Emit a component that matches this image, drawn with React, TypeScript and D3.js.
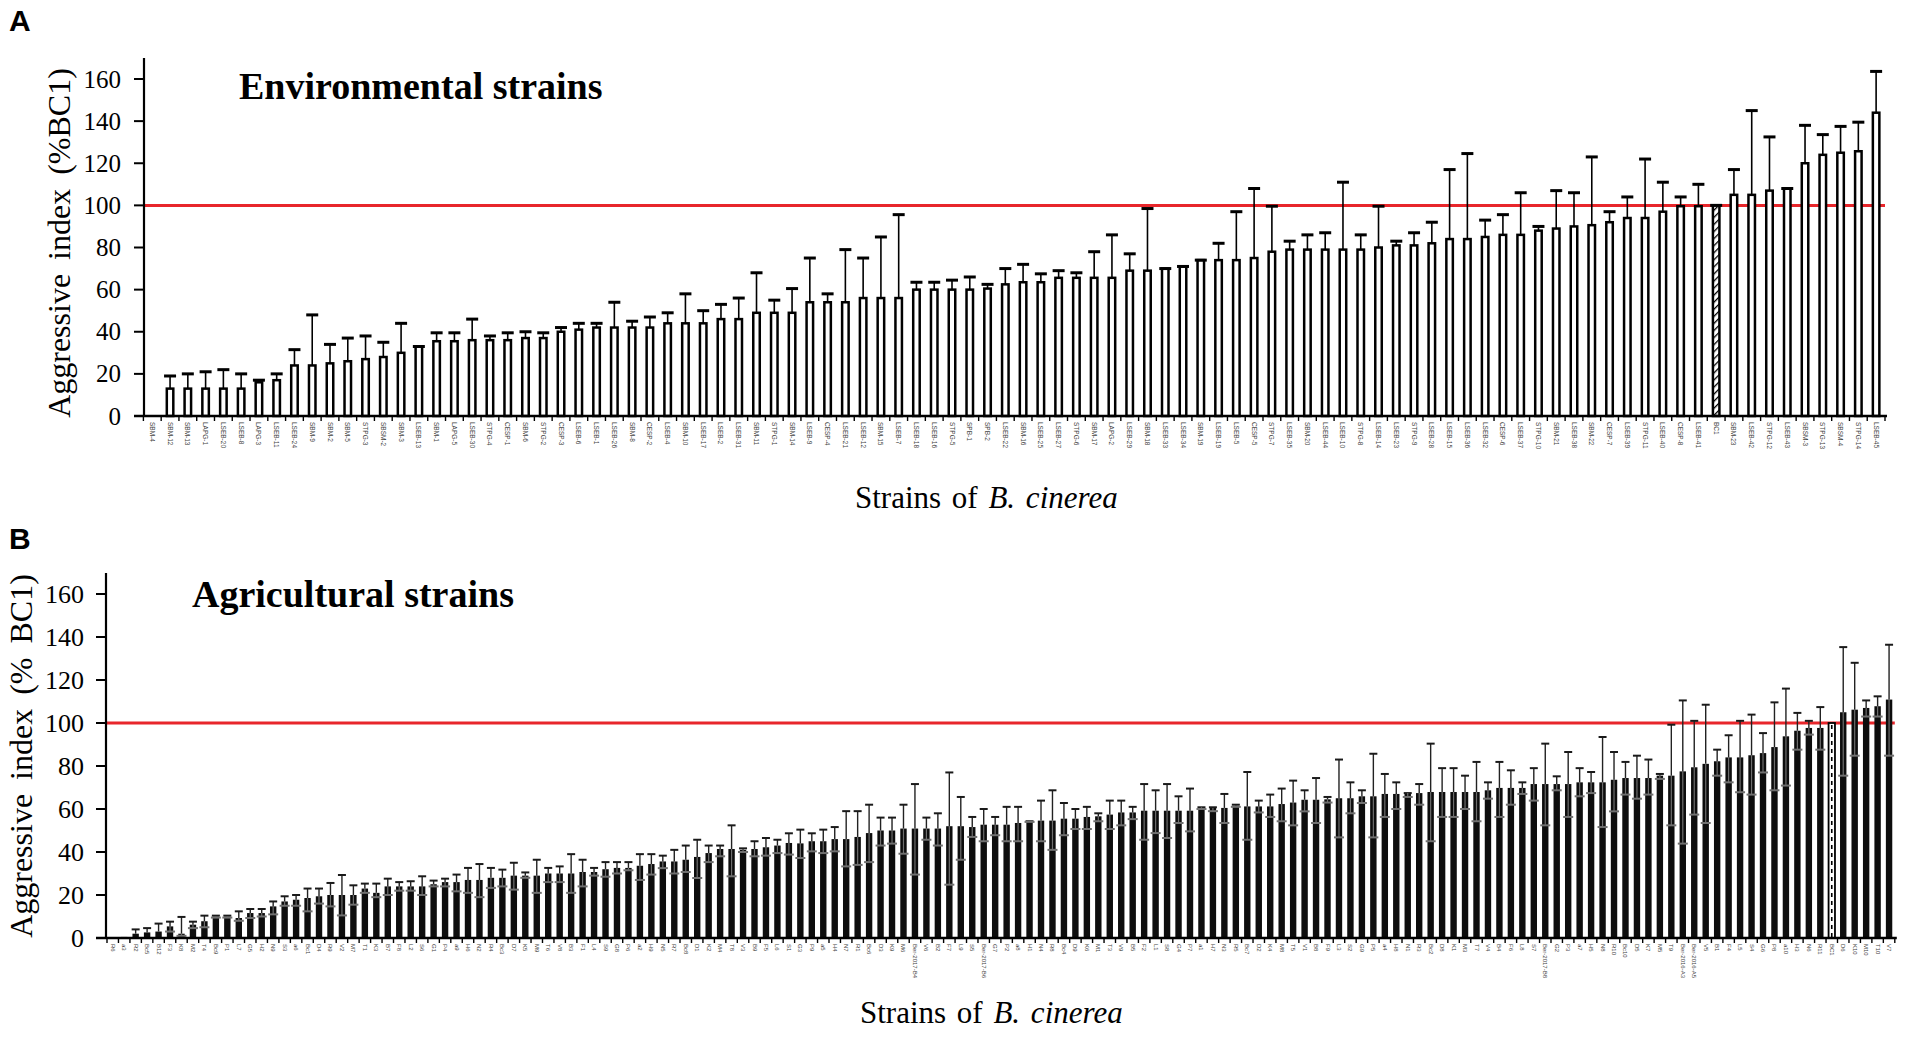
import React from "react";
import * as d3 from "d3";

const W = 1905;
const H = 1037;

const yTicks = [0, 20, 40, 60, 80, 100, 120, 140, 160];
const referenceValue = 100;

// ---------- Panel A : environmental strains ----------
const envStrains = (
  "SBM-4 SBM-12 SBM-13 LAPG-1 LSEB-20 LSEB-8 LAPG-3 LSEB-11 LSEB-24 SBM-9 " +
  "SBM-2 SBM-5 STPG-3 SBSM-2 SBM-3 LSEB-13 SBM-1 LAPG-5 LSEB-30 STPG-4 " +
  "CESP-1 SBM-6 STPG-2 CESP-3 LSEB-6 LSEB-1 LSEB-26 SBM-8 CESP-2 LSEB-4 " +
  "SBM-10 LSEB-17 LSEB-2 LSEB-31 SBM-11 STPG-1 SBM-14 LSEB-9 CESP-4 LSEB-21 " +
  "LSEB-12 SBM-15 LSEB-7 LSEB-18 LSEB-16 STPG-5 SPB-1 SPB-2 LSEB-22 SBM-16 " +
  "LSEB-25 LSEB-27 STPG-6 SBM-17 LAPG-2 LSEB-29 SBM-18 LSEB-33 LSEB-34 SBM-19 " +
  "LSEB-19 LSEB-5 CESP-5 STPG-7 LSEB-35 SBM-20 LSEB-44 LSEB-10 STPG-8 LSEB-14 " +
  "LSEB-23 STPG-9 LSEB-28 LSEB-15 LSEB-36 LSEB-32 CESP-6 LSEB-37 STPG-10 SBM-21 " +
  "LSEB-38 SBM-22 CESP-7 LSEB-39 STPG-11 LSEB-40 CESP-8 LSEB-41 BC1 SBM-23 " +
  "LSEB-42 STPG-12 LSEB-43 SBSM-3 STPG-13 SBSM-4 STPG-14 LSEB-45"
).split(" ");

const envMeans = [
  0,
  13, 13, 13, 13, 13, 16, 17, 24, 24, 25,
  26, 27, 28, 30, 33, 35.5, 35.5, 36, 36, 36,
  37, 37, 40, 41, 42, 42, 42, 42, 44, 44,
  44, 46, 46, 49, 49, 49, 54, 54, 54, 56,
  56, 56, 60, 60, 60, 60, 60.5, 62.5, 63.5, 63.5,
  65.6, 65.6, 65.6, 65.6, 69, 69, 70, 71, 74, 74,
  74, 75, 78, 79, 79, 79, 79, 79, 80, 81,
  81, 82, 84, 84, 85, 86, 86, 88, 89, 90,
  90.6, 92, 94, 94, 97, 99.6, 99.6, 100, 105, 105,
  107, 108, 120, 124, 125, 125.7, 144,
];

const envUpper = [
  0,
  19, 20, 21, 22, 20, 17, 20, 31.5, 48, 34,
  37, 38, 35, 44, 33, 39.5, 39.5, 46, 38, 39.5,
  40, 39.5, 42, 44, 44, 54, 45, 47, 49, 58,
  50, 53, 56, 68, 55, 60.5, 75, 58, 79, 75,
  85, 95.6, 63.5, 63.5, 64.5, 66, 62.5, 70, 72, 67.5,
  69, 68, 78, 86, 77, 98.5, 70, 71, 74, 82,
  97, 108, 99.6, 83, 86, 87, 111, 86, 99.6, 83,
  87, 92, 117, 124.6, 93, 95.6, 106, 90, 107, 106,
  123, 97, 104, 122, 111, 104, 110, 100, 117, 145,
  132.5, 108, 138, 133.6, 137.5, 139.5, 163.6,
];

// ---------- Panel B : agricultural strains ----------
const agriStrains = (
  "R6 a3 R2 Bc5 B12 F3 K8 M2 T4 Bc9 P1 L7 " +
  "G5 H2 N9 S3 a6 Bc1 D4 R9 V2 M7 T1 K3 " +
  "B7 F8 L2 S6 G1 P4 a9 H6 N2 R4 Bc3 D7 " +
  "K5 M9 T6 V8 B3 F1 L4 S9 G8 P6 a2 H9 " +
  "N5 R7 Bc8 D1 K2 M4 T8 V3 B9 F5 L6 S1 " +
  "G3 P9 a5 H4 N7 R1 Bc6 D3 K9 M6 Ber-2017-B4 V6 " +
  "B2 F7 L9 S5 Ber-2017-B6 G7 P2 a8 H1 N4 R8 Bc4 " +
  "D9 K6 M1 T3 V9 B5 F2 L1 S8 G4 P7 a1 " +
  "H7 N3 R5 Bc7 D2 K4 M8 T5 V1 B8 F9 L3 " +
  "S2 G9 P5 a4 H8 N1 R3 Bc2 D8 K1 M3 T7 " +
  "V4 B4 F6 L8 S7 Ber-2017-B8 G2 P3 a7 H5 N8 R10 " +
  "Bc10 D5 K7 M5 T9 Ber-2016-A3 Ber-2016-A5 V5 B1 F4 L5 S4 " +
  "G6 P8 a10 H3 N6 R11 BC1 D6 K10 M10 T10 V7"
).split(" ");

const agriMeans = [
  0, 0.5, 2, 2.6, 3, 5.4, 2, 6.2, 7.8, 10,
  10, 9.3, 11.6, 11.6, 14.7, 17, 17.8, 18.6, 19.4, 20,
  20, 20, 23, 21, 24, 24, 24, 24, 25, 26,
  26, 27, 27, 28, 28, 29, 29, 29, 30, 30,
  30, 30.7, 30.7, 32, 32.6, 32.6, 33.6, 34.4, 35.6, 35.6,
  36.4, 37.7, 39.5, 41.4, 41.4, 41, 41.4, 42.2, 43, 44.2,
  44, 45, 45, 46, 46, 47, 48.8, 50, 50, 50.9,
  50.9, 50.9, 50.9, 52, 52, 51.6, 52.7, 52.7, 52.7, 53.5,
  54.3, 54.6, 54.6, 55.5, 55.5, 56.3, 56.6, 57.4, 58.4, 58.4,
  59.2, 59.2, 59.2, 59.2, 59.2, 60.8, 60.5, 60.5, 61.5, 61.2,
  61.2, 61.2, 62.3, 63, 64.3, 64.3, 64.5, 65, 65, 65.9,
  65.9, 67, 67, 67.4, 67.4, 67.9, 67.9, 67.9, 67.9, 67.9,
  68.7, 69.8, 69.8, 69.8, 71.6, 71.6, 71.6, 71.6, 72.4, 72.4,
  72.4, 73.6, 74.4, 74.4, 74.4, 75.5, 75.5, 77.5, 79.4, 81,
  82.2, 84, 84, 85, 86, 88.8, 93.8, 96.4, 97.7, 97.7,
  100, 105, 106.2, 107, 107.8, 110.9,
];

const agriUpper = [
  0, 0.5, 4, 4.6, 6.7, 7.6, 9.8, 7.6, 10.4, 10.4,
  10.4, 12.4, 13.5, 13.5, 17, 19.4, 20, 23, 23, 25.6,
  29.3, 24.5, 25.3, 25.3, 27.6, 26, 26.4, 28.7, 26.7, 27.6,
  29.5, 32.6, 34.4, 32.6, 31.8, 35, 30.5, 36.4, 32.6, 33.3,
  39, 36.4, 32.6, 35.3, 35.3, 35.3, 39, 39, 38.3, 41,
  43, 45.7, 43, 43, 52.4, 41.7, 45, 46.5, 45.7, 48.7,
  50.4, 48.7, 50.4, 51.6, 59, 59, 62, 56, 56, 62,
  71.6, 56, 58, 77, 65.6, 56.3, 60, 56.3, 61, 61,
  54.3, 63.9, 68.7, 62.8, 60, 61, 58, 63.9, 63.9, 61,
  71.6, 68.7, 71.6, 65.9, 69.5, 60.8, 60.8, 67, 62, 77.2,
  63.9, 66.7, 69.5, 73.2, 68.7, 74.4, 65.6, 83, 72.4, 68.7,
  85.7, 76.3, 72.4, 67.4, 71.6, 90.4, 79, 79, 75.5, 81.9,
  72.4, 81.9, 78, 72.4, 79, 90.4, 75.2, 86.5, 79, 77.2,
  93.5, 86.5, 81.9, 84.8, 83, 76.3, 99.2, 110.5, 101, 108.5,
  87.6, 94.3, 101, 103.9, 95.3, 109.6, 116, 104.7, 101, 107.4,
  100, 135.3, 128, 110.5, 112.4, 136.4,
];

const agriLower = [
  0, 0.5, 2, 2.6, 3, 3, 1, 4.6, 5, 9.5,
  9.5, 8, 9.3, 10, 11, 15, 15, 12.4, 16, 14.7,
  10.5, 15.5, 21, 19, 20, 22, 22, 20, 24, 24,
  21.7, 21, 19, 23.3, 24, 22.5, 28, 21, 26, 26,
  21, 24, 29, 28.5, 30, 31.5, 27, 29.5, 32.5, 30,
  30.7, 27.9, 35.3, 38, 28.7, 40, 38, 38.3, 39.5, 38.8,
  37.2, 40.3, 39.5, 40.3, 33.3, 34, 35.3, 43, 43.9, 39.2,
  29.5, 45.7, 43, 24.8, 36.4, 47, 45, 47.8, 45, 45,
  54, 45, 41, 47.8, 50.7, 50.7, 54.3, 50.7, 52.4, 55.3,
  45.7, 48.8, 46.5, 53.5, 49.6, 60, 59, 53.5, 61, 45.7,
  58.4, 56.3, 54.3, 52.4, 58.9, 53.5, 63, 46.8, 58, 62.8,
  46.8, 56.3, 60, 65.6, 62, 45, 56.3, 56.3, 60, 54.3,
  64.8, 56.3, 62, 67, 63.9, 52.4, 68.7, 56.3, 65.9, 67.4,
  51.6, 58.9, 66.7, 64.8, 66.7, 74, 52.4, 43.9, 57.4, 53.5,
  75.5, 72.4, 67.8, 66.7, 77, 68.7, 70.9, 87.6, 94.6, 87.6,
  100, 75.5, 84.8, 103, 103, 84.8,
];

const SERIF = "'Liberation Serif', 'Times New Roman', serif";
const SANS = "'Liberation Sans', Arial, sans-serif";

type PanelProps = {
  kind: "env" | "agri";
  letter: string;
  letterY: number;
  title: string;
  titleX: number;
  titleY: number;
  yLabel: string;
  yLabelX: number;
  yLabelY: number;
  xLabelX: number;
  xLabelY: number;
  axisX: number;
  axisTop: number;
  baseline: number;
  y160: number;
  bandStart: number;
  bandEnd: number;
  tickFont: number;
  tickLabelX: number;
  labels: string[];
  means: number[];
  upper: number[];
  lower?: number[];
};

function Panel(p: PanelProps) {
  const n = p.means.length;
  const x = d3
    .scaleBand<string>()
    .domain(d3.range(n).map(String))
    .range([p.bandStart, p.bandEnd])
    .paddingInner(0)
    .paddingOuter(0);
  const y = d3.scaleLinear().domain([0, 160]).range([p.baseline, p.y160]);
  const step = x.step();
  const isEnv = p.kind === "env";
  const barW = isEnv ? 6.5 : 6.4;
  const capW = isEnv ? 12 : 8;
  const refIdx = p.labels.indexOf("BC1");

  const boundaries = d3.range(n + 1).map((i) => p.bandStart + i * step);

  return (
    <g>
      <text x={9} y={p.letterY} fontFamily={SANS} fontWeight="bold" fontSize={30} fill="#000">
        {p.letter}
      </text>
      <text
        x={p.titleX}
        y={p.titleY}
        fontFamily={SERIF}
        fontWeight="bold"
        fontSize={38}
        fill="#000"
      >
        {p.title}
      </text>
      {/* y label */}
      <text
        transform={`translate(${p.yLabelX},${p.yLabelY}) rotate(-90)`}
        textAnchor="middle"
        dominantBaseline="central"
        fontFamily={SERIF}
        fontSize={32}
        wordSpacing={6}
        fill="#000"
      >
        {p.yLabel}
      </text>
      {/* x label */}
      <text x={p.xLabelX} y={p.xLabelY} fontFamily={SERIF} fontSize={31} wordSpacing={3} fill="#000">
        Strains of <tspan fontStyle="italic">B. cinerea</tspan>
      </text>

      {/* reference line at 100 */}
      <line
        x1={p.axisX}
        x2={p.bandEnd}
        y1={y(referenceValue)}
        y2={y(referenceValue)}
        stroke="#e8262b"
        strokeWidth={3}
      />

      {/* bars */}
      {p.means.map((v, i) => {
        if (v <= 0) return null;
        const cx = (x(String(i)) as number) + step / 2;
        const top = y(v);
        const isRef = i === refIdx;
        if (isEnv) {
          return (
            <g key={i}>
              <rect
                x={cx - barW / 2}
                y={top}
                width={barW}
                height={p.baseline - top}
                fill={isRef ? "url(#hatch)" : "#fff"}
                stroke="#000"
                strokeWidth={2.5}
              />
              {p.upper[i] > v && (
                <line x1={cx} x2={cx} y1={top} y2={y(p.upper[i])} stroke="#000" strokeWidth={1.6} />
              )}
              <line
                x1={cx - capW / 2}
                x2={cx + capW / 2}
                y1={y(p.upper[i])}
                y2={y(p.upper[i])}
                stroke="#000"
                strokeWidth={3}
              />
            </g>
          );
        }
        const lo = p.lower ? p.lower[i] : v;
        if (isRef) {
          return (
            <g key={i}>
              <rect
                x={cx - barW / 2}
                y={top}
                width={barW}
                height={p.baseline - top}
                fill="#fff"
                stroke="#000"
                strokeWidth={1.8}
              />
              <line
                x1={cx}
                x2={cx}
                y1={top + 2}
                y2={p.baseline}
                stroke="#000"
                strokeWidth={1.6}
                strokeDasharray="4 4"
              />
            </g>
          );
        }
        return (
          <g key={i}>
            <rect
              x={cx - barW / 2}
              y={top}
              width={barW}
              height={p.baseline - top}
              fill="#0d0d0d"
            />
            {p.upper[i] > v + 0.2 && (
              <line x1={cx} x2={cx} y1={top} y2={y(p.upper[i])} stroke="#222" strokeWidth={1.4} />
            )}
            {p.upper[i] > 1 && (
              <line
                x1={cx - capW / 2}
                x2={cx + capW / 2}
                y1={y(p.upper[i])}
                y2={y(p.upper[i])}
                stroke="#1a1a1a"
                strokeWidth={2}
              />
            )}
            {lo < v - 0.2 && (
              <g>
                <line x1={cx} x2={cx} y1={top} y2={y(lo)} stroke="#6e6e6e" strokeWidth={1.2} />
                <line
                  x1={cx - capW / 2 - 1}
                  x2={cx + capW / 2 + 1}
                  y1={y(lo)}
                  y2={y(lo)}
                  stroke="#707070"
                  strokeWidth={2}
                />
              </g>
            )}
          </g>
        );
      })}

      {/* y axis */}
      <line x1={p.axisX} x2={p.axisX} y1={p.axisTop} y2={p.baseline} stroke="#000" strokeWidth={2.2} />
      {yTicks.map((t) => (
        <g key={t}>
          <line
            x1={p.axisX - 10}
            x2={p.axisX}
            y1={y(t)}
            y2={y(t)}
            stroke="#000"
            strokeWidth={2}
          />
          <text
            x={p.tickLabelX}
            y={y(t)}
            textAnchor="end"
            dominantBaseline="central"
            fontFamily={SERIF}
            fontSize={p.tickFont}
            fill="#000"
          >
            {t}
          </text>
        </g>
      ))}

      {/* x axis */}
      <line
        x1={p.axisX - 10}
        x2={p.bandEnd + 2}
        y1={p.baseline}
        y2={p.baseline}
        stroke="#000"
        strokeWidth={2.6}
      />
      {boundaries.map((bx, i) => (
        <line key={i} x1={bx} x2={bx} y1={p.baseline} y2={p.baseline + 5} stroke="#000" strokeWidth={1.4} />
      ))}
      {p.labels.map((lab, i) => {
        const cx = (x(String(i)) as number) + step / 2;
        return (
          <text
            key={i}
            transform={`translate(${cx},${p.baseline + 6}) rotate(90)`}
            dominantBaseline="central"
            fontFamily={SANS}
            fontSize={isEnv ? 6.5 : 6}
            fill="#444"
          >
            {lab}
          </text>
        );
      })}
    </g>
  );
}

export default function App() {
  return (
    <svg
      width={W}
      height={H}
      viewBox={`0 0 ${W} ${H}`}
      style={{ position: "absolute", left: 0, top: 0, background: "#fff" }}
    >
      <defs>
        <pattern id="hatch" patternUnits="userSpaceOnUse" width={5} height={5} patternTransform="rotate(45)">
          <rect width={5} height={5} fill="#fff" />
          <line x1={0} y1={0} x2={0} y2={5} stroke="#000" strokeWidth={2.6} />
        </pattern>
      </defs>
      <rect x={0} y={0} width={W} height={H} fill="#fff" />
      <Panel
        kind="env"
        letter="A"
        letterY={31}
        title="Environmental strains"
        titleX={239}
        titleY={99}
        yLabel="Aggressive index (%BC1)"
        yLabelX={59}
        yLabelY={243}
        xLabelX={855}
        xLabelY={508}
        axisX={144}
        axisTop={58}
        baseline={416}
        y160={79}
        bandStart={143.4}
        bandEnd={1885}
        tickFont={25}
        tickLabelX={121}
        labels={envStrains}
        means={envMeans}
        upper={envUpper}
      />
      <Panel
        kind="agri"
        letter="B"
        letterY={549}
        title="Agricultural strains"
        titleX={192}
        titleY={607}
        yLabel="Aggressive index (% BC1)"
        yLabelX={21}
        yLabelY={756}
        xLabelX={860}
        xLabelY={1023}
        axisX={106}
        axisTop={573}
        baseline={938}
        y160={594}
        bandStart={107}
        bandEnd={1894.8}
        tickFont={26}
        tickLabelX={84}
        labels={agriStrains}
        means={agriMeans}
        upper={agriUpper}
        lower={agriLower}
      />
    </svg>
  );
}
